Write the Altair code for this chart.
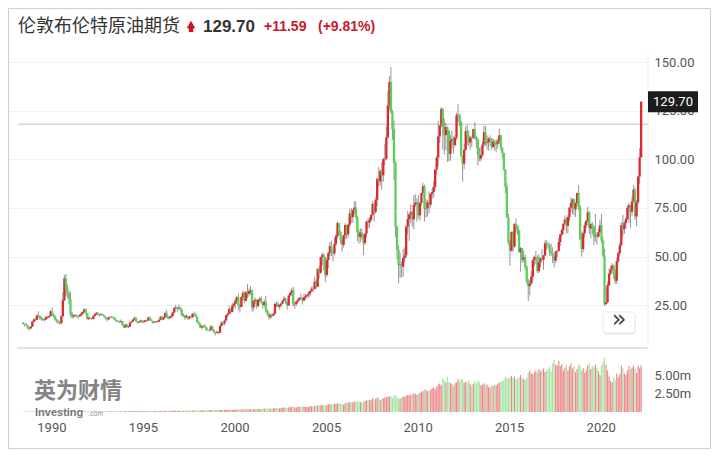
import altair as alt
import pandas as pd
import numpy as np

# ---------------- data (monthly Brent futures, Jun 1988 - Mar 2022) ----------------
start_year, start_month = 1988, 6
first_open = 15.9

close = [
    15.2, 15.1, 14.5, 12.9, 13.0, 13.9, 16.4,
    17.6, 17.4, 19.6, 19.5, 17.8, 17.9, 17.3, 17.6, 18.9, 18.7, 19.3, 21.8,
    20.0, 19.0, 17.5, 16.4, 16.1, 15.6, 19.2, 27.5, 38.7, 33.5, 31.0, 28.0,
    20.5, 19.0, 19.5, 19.8, 19.3, 19.2, 19.8, 20.5, 21.5, 22.8, 20.7, 17.8,
    18.4, 18.2, 17.8, 19.4, 20.3, 21.0, 19.8, 19.9, 20.4, 19.8, 19.0, 18.0,
    17.6, 18.7, 18.7, 18.9, 18.5, 17.2, 16.9, 16.8, 16.2, 16.7, 14.6, 13.5,
    15.0, 13.6, 13.9, 16.0, 16.5, 17.6, 18.4, 16.6, 16.0, 16.4, 17.0, 16.1,
    16.3, 17.2, 16.9, 18.6, 17.6, 16.8, 15.9, 16.2, 16.6, 16.4, 17.4, 19.0,
    17.6, 18.6, 20.8, 19.1, 18.2, 18.6, 19.4, 21.2, 23.4, 23.8, 23.1, 23.6,
    22.6, 19.6, 19.8, 18.5, 19.3, 18.1, 18.9, 18.8, 20.5, 20.5, 18.9, 16.2,
    15.4, 13.4, 14.1, 14.3, 13.6, 12.2, 12.0, 12.0, 13.9, 12.2, 10.8, 10.6,
    11.2, 10.7, 14.3, 15.8, 15.6, 17.0, 19.7, 20.6, 23.0, 21.4, 24.6, 25.5,
    27.1, 29.0, 24.9, 24.0, 29.1, 31.3, 27.2, 31.6, 30.8, 32.2, 32.6, 23.8,
    26.9, 27.8, 24.6, 27.6, 28.3, 26.5, 25.0, 26.6, 22.4, 20.6, 18.8, 19.8,
    19.5, 20.5, 25.7, 25.6, 24.1, 25.0, 25.8, 27.2, 28.4, 26.7, 24.8, 30.0,
    31.2, 32.6, 25.4, 25.6, 26.8, 27.6, 28.8, 28.7, 27.3, 28.9, 29.7, 30.2,
    30.9, 32.2, 33.4, 33.3, 37.0, 34.4, 43.6, 41.7, 49.7, 50.9, 49.4, 40.5,
    48.2, 51.8, 55.4, 51.9, 51.6, 56.5, 60.6, 67.2, 62.6, 58.6, 56.0, 61.0,
    66.2, 61.5, 66.3, 72.2, 70.3, 73.9, 75.2, 70.3, 62.5, 60.0, 62.3, 61.1,
    57.0, 61.8, 68.1, 67.5, 68.8, 71.4, 77.0, 73.0, 79.2, 90.0, 88.7, 93.9,
    91.8, 100.1, 100.3, 111.4, 127.8, 139.8, 124.1, 115.5, 98.2, 65.3, 53.5, 45.6,
    45.9, 44.8, 49.2, 50.6, 65.4, 69.3, 71.7, 73.0, 69.1, 76.6, 77.7, 77.9,
    71.2, 77.6, 82.7, 86.2, 74.7, 75.0, 78.0, 76.7, 82.3, 83.2, 85.9, 94.8,
    101.0, 111.8, 117.4, 125.9, 116.7, 112.5, 116.7, 114.9, 102.8, 109.6, 110.5, 107.4,
    111.2, 122.7, 122.9, 119.5, 101.9, 97.8, 104.9, 114.6, 112.4, 108.7, 111.2, 111.1,
    115.6, 111.4, 110.0, 102.4, 100.4, 102.2, 107.7, 114.0, 108.4, 108.8, 110.8, 110.8,
    106.4, 109.1, 107.8, 108.1, 109.4, 112.4, 106.0, 103.2, 94.7, 85.9, 70.2, 57.3,
    53.0, 62.6, 55.1, 66.8, 65.6, 63.6, 52.2, 54.2, 48.4, 49.6, 44.6, 37.3,
    34.7, 36.0, 39.6, 48.1, 49.7, 49.7, 42.5, 47.0, 49.1, 48.3, 50.5, 56.8,
    55.7, 55.6, 52.8, 51.7, 50.3, 47.9, 52.7, 52.9, 57.5, 61.4, 63.6, 66.9,
    69.1, 65.8, 70.3, 75.2, 77.6, 79.4, 74.3, 77.4, 82.7, 75.5, 58.7, 53.8,
    61.9, 66.0, 68.4, 72.8, 64.5, 66.6, 65.2, 60.4, 60.8, 60.2, 62.4, 66.0,
    58.2, 50.5, 25.5, 26.5, 35.3, 41.2, 43.3, 45.3, 40.9, 37.5, 47.6, 51.8,
    55.9, 66.1, 64.0, 67.3, 69.3, 75.1, 76.3, 73.0, 78.3, 84.4, 70.6, 77.8,
    91.2, 101.0, 129.7,
]

high = [
    16.3, 15.6, 15.8, 14.6, 13.6, 14.2, 16.8,
    18.4, 18.1, 20.2, 21.8, 19.6, 18.8, 18.5, 18.0, 19.4, 19.5, 19.6, 22.3,
    23.8, 20.5, 19.6, 17.9, 17.4, 16.6, 19.8, 31.5, 40.5, 41.0, 35.5, 32.0,
    32.0, 21.5, 20.2, 20.4, 20.0, 19.6, 20.4, 21.2, 21.7, 23.4, 22.9, 20.8,
    19.1, 18.8, 18.4, 19.6, 20.6, 21.4, 21.2, 20.2, 20.7, 20.6, 19.9, 19.1,
    18.3, 19.0, 19.2, 19.4, 19.1, 18.7, 17.5, 17.3, 16.9, 17.6, 16.9, 14.8,
    15.2, 15.3, 14.4, 16.2, 16.8, 17.9, 19.1, 18.5, 16.8, 16.9, 17.6, 17.2,
    17.2, 17.4, 17.5, 19.0, 19.1, 17.7, 16.9, 16.6, 16.9, 16.8, 17.7, 19.2,
    19.3, 18.9, 21.6, 22.4, 19.5, 19.2, 20.3, 21.4, 24.1, 25.1, 24.0, 25.2,
    24.2, 22.9, 20.7, 19.9, 20.3, 19.6, 19.6, 19.8, 20.8, 21.7, 20.7, 19.0,
    16.7, 15.7, 14.5, 14.7, 15.1, 13.8, 12.9, 12.4, 14.8, 14.2, 12.5, 11.0,
    11.9, 11.4, 14.5, 16.8, 16.4, 17.4, 19.9, 21.0, 24.8, 23.4, 26.1, 26.2,
    28.3, 29.6, 31.0, 25.6, 29.6, 32.3, 32.0, 32.2, 35.9, 33.5, 34.8, 32.8,
    27.4, 28.9, 28.0, 28.0, 29.0, 29.5, 26.9, 27.8, 29.6, 22.6, 21.2, 20.4,
    20.9, 21.1, 25.8, 26.9, 26.6, 25.4, 26.2, 27.6, 29.6, 28.9, 27.0, 30.3,
    31.9, 33.7, 34.4, 26.6, 27.3, 28.5, 29.0, 30.8, 29.0, 30.9, 30.6, 30.4,
    32.0, 32.4, 34.5, 34.7, 39.5, 38.2, 43.9, 45.2, 49.9, 52.0, 51.5, 49.8,
    49.0, 52.5, 57.5, 58.3, 53.5, 59.5, 61.5, 68.0, 67.3, 63.2, 59.8, 61.3,
    67.1, 66.5, 66.9, 74.6, 74.9, 74.0, 78.6, 78.4, 70.9, 64.0, 64.5, 64.3,
    61.3, 62.0, 68.4, 69.8, 70.4, 71.6, 78.6, 77.6, 80.6, 90.6, 96.0, 94.9,
    98.5, 100.9, 108.0, 117.0, 135.1, 143.0, 147.5, 125.5, 120.0, 99.0, 66.0, 55.6,
    52.0, 47.5, 53.9, 54.7, 66.0, 73.5, 72.0, 76.8, 73.3, 81.5, 82.0, 80.0,
    81.6, 78.0, 82.8, 88.0, 87.0, 79.4, 79.2, 83.5, 82.4, 85.0, 88.8, 95.0,
    101.9, 119.8, 117.6, 127.0, 126.5, 121.0, 118.9, 117.0, 115.0, 112.5, 115.0, 111.8,
    112.5, 124.0, 128.4, 123.5, 120.0, 102.0, 108.0, 117.0, 117.9, 115.0, 112.0, 111.8,
    115.8, 119.2, 112.0, 111.0, 106.0, 106.5, 109.3, 117.3, 117.3, 112.3, 111.5, 112.4,
    111.0, 110.5, 110.0, 110.4, 110.5, 115.7, 112.6, 106.3, 103.5, 95.0, 87.8, 72.0,
    58.5, 63.0, 63.2, 67.1, 69.6, 66.0, 63.8, 54.9, 54.3, 53.1, 50.9, 45.5,
    38.5, 37.9, 42.5, 48.5, 50.5, 52.9, 50.5, 51.2, 49.7, 53.7, 50.8, 58.4,
    58.4, 57.4, 56.7, 56.6, 54.7, 50.5, 52.9, 53.3, 59.5, 61.7, 64.7, 67.1,
    71.3, 70.1, 71.2, 75.5, 80.5, 79.9, 79.9, 78.0, 82.9, 86.7, 76.5, 62.9,
    62.9, 67.5, 68.7, 75.6, 73.3, 67.3, 67.8, 65.8, 71.9, 62.6, 64.4, 68.9,
    71.8, 60.0, 53.9, 34.0, 37.0, 43.9, 45.2, 46.5, 45.9, 43.5, 49.3, 52.5,
    57.4, 67.7, 71.4, 68.1, 70.2, 76.6, 77.8, 76.7, 80.8, 86.7, 85.5, 79.0,
    91.7, 105.8, 130.0,
]

low = [
    14.9, 13.9, 14.2, 12.5, 11.9, 12.6, 13.8,
    16.2, 16.6, 17.2, 19.0, 17.5, 17.0, 16.8, 16.5, 17.5, 18.0, 18.3, 19.2,
    19.5, 18.6, 17.0, 15.8, 15.4, 14.8, 15.4, 19.0, 27.0, 29.5, 28.8, 25.5,
    19.0, 17.9, 18.2, 18.9, 18.5, 18.0, 18.9, 19.0, 19.9, 21.2, 20.2, 17.5,
    17.2, 17.7, 17.3, 17.6, 19.3, 19.9, 19.6, 19.1, 19.7, 19.6, 18.7, 17.5,
    16.6, 17.5, 18.2, 18.3, 18.0, 17.0, 16.2, 16.4, 15.7, 16.1, 14.4, 13.1,
    13.3, 13.5, 13.1, 13.8, 15.7, 16.3, 17.5, 16.3, 15.3, 15.8, 16.3, 15.6,
    15.8, 16.2, 16.6, 16.8, 17.4, 16.5, 15.4, 15.8, 16.0, 15.9, 16.3, 17.3,
    17.1, 17.4, 18.4, 18.5, 17.6, 17.8, 18.4, 19.1, 20.8, 22.9, 21.5, 22.8,
    21.9, 19.2, 18.8, 17.3, 18.4, 17.3, 17.6, 18.2, 18.3, 19.9, 18.8, 15.9,
    14.9, 13.3, 12.4, 13.2, 13.4, 11.5, 11.8, 11.4, 11.8, 11.9, 10.5, 9.4,
    10.3, 9.9, 10.6, 14.1, 14.6, 14.5, 16.9, 18.9, 20.2, 20.4, 21.2, 23.3,
    23.2, 26.1, 22.4, 21.2, 23.9, 27.3, 26.0, 26.8, 28.7, 29.3, 30.3, 21.5,
    22.2, 25.5, 23.2, 23.8, 26.7, 25.7, 23.3, 24.3, 21.2, 19.5, 17.5, 17.8,
    18.5, 19.3, 20.2, 24.0, 23.9, 22.7, 24.0, 25.5, 27.1, 25.6, 22.6, 24.5,
    29.1, 29.8, 24.3, 23.1, 24.5, 25.8, 27.3, 28.0, 25.4, 27.1, 27.8, 28.5,
    28.8, 29.5, 31.6, 31.7, 33.1, 33.4, 34.2, 38.8, 41.0, 45.4, 42.6, 36.9,
    39.4, 43.9, 50.3, 50.2, 47.5, 50.6, 55.4, 59.5, 61.5, 56.6, 52.6, 54.5,
    58.9, 58.9, 59.8, 65.1, 67.3, 67.3, 71.6, 69.4, 58.0, 56.6, 57.2, 58.7,
    50.7, 56.0, 59.8, 64.8, 64.6, 67.9, 71.0, 68.0, 72.0, 76.0, 86.0, 86.5,
    84.5, 88.5, 97.0, 99.5, 110.5, 125.4, 123.5, 110.2, 89.5, 60.0, 48.5, 36.2,
    39.0, 39.4, 39.5, 47.0, 49.2, 61.5, 58.0, 67.1, 65.3, 64.1, 75.5, 68.0,
    69.6, 68.5, 76.2, 81.5, 68.0, 70.2, 70.5, 72.2, 75.2, 79.6, 80.5, 84.5,
    92.0, 96.5, 108.5, 116.5, 105.0, 102.5, 104.8, 98.7, 99.0, 99.3, 105.5, 103.0,
    106.5, 110.0, 119.0, 117.0, 101.0, 88.5, 95.0, 104.5, 107.5, 107.0, 105.0, 106.5,
    110.5, 110.3, 106.0, 96.8, 99.0, 99.0, 101.5, 106.5, 107.0, 105.0, 104.5, 106.8,
    105.0, 106.0, 104.5, 103.7, 105.6, 108.0, 104.5, 100.5, 94.2, 82.6, 70.0, 56.0,
    45.2, 52.6, 52.5, 54.5, 62.2, 61.1, 52.1, 42.2, 46.6, 47.1, 43.0, 36.0,
    27.1, 30.0, 35.7, 37.3, 45.0, 46.0, 41.5, 41.5, 44.5, 48.0, 43.1, 50.2,
    53.6, 54.2, 50.3, 50.4, 46.6, 44.4, 46.6, 49.7, 52.5, 55.5, 60.1, 61.2,
    66.3, 61.8, 62.0, 68.3, 73.0, 71.8, 71.2, 70.3, 76.4, 74.0, 58.4, 50.0,
    52.1, 59.9, 64.5, 67.9, 61.6, 59.5, 61.4, 55.9, 57.5, 56.1, 59.7, 62.1,
    57.2, 49.5, 24.5, 25.0, 26.0, 34.6, 40.5, 42.5, 38.5, 35.8, 35.9, 46.8,
    50.4, 55.2, 60.3, 61.6, 64.5, 68.8, 67.4, 64.6, 71.0, 77.8, 68.9, 65.7,
    77.0, 87.3, 100.9,
]

volume_m = [
    0.05, 0.05, 0.06, 0.05, 0.06, 0.05, 0.06,
    0.06, 0.05, 0.06, 0.07, 0.06, 0.05, 0.06, 0.06, 0.07, 0.06, 0.06, 0.07,
    0.07, 0.06, 0.06, 0.07, 0.06, 0.06, 0.08, 0.12, 0.14, 0.12, 0.10, 0.09,
    0.12, 0.09, 0.08, 0.08, 0.07, 0.08, 0.08, 0.08, 0.09, 0.09, 0.08, 0.09,
    0.09, 0.08, 0.09, 0.10, 0.09, 0.10, 0.09, 0.09, 0.10, 0.09, 0.10, 0.09,
    0.10, 0.11, 0.10, 0.10, 0.11, 0.10, 0.11, 0.11, 0.10, 0.12, 0.11, 0.12,
    0.12, 0.13, 0.12, 0.13, 0.12, 0.14, 0.13, 0.12, 0.13, 0.12, 0.13, 0.12,
    0.13, 0.14, 0.13, 0.15, 0.14, 0.13, 0.14, 0.15, 0.14, 0.15, 0.14, 0.16,
    0.16, 0.17, 0.18, 0.17, 0.16, 0.17, 0.18, 0.17, 0.19, 0.18, 0.17, 0.19,
    0.19, 0.18, 0.19, 0.20, 0.19, 0.18, 0.20, 0.19, 0.20, 0.21, 0.20, 0.22,
    0.22, 0.23, 0.25, 0.22, 0.24, 0.26, 0.23, 0.25, 0.27, 0.24, 0.26, 0.28,
    0.27, 0.26, 0.30, 0.28, 0.27, 0.29, 0.30, 0.28, 0.32, 0.30, 0.31, 0.29,
    0.32, 0.35, 0.36, 0.33, 0.34, 0.37, 0.35, 0.38, 0.40, 0.36, 0.37, 0.39,
    0.40, 0.38, 0.42, 0.45, 0.41, 0.44, 0.43, 0.46, 0.52, 0.48, 0.50, 0.45,
    0.47, 0.50, 0.55, 0.52, 0.55, 0.50, 0.56, 0.58, 0.60, 0.57, 0.59, 0.62,
    0.66, 0.70, 0.72, 0.62, 0.65, 0.68, 0.70, 0.66, 0.72, 0.75, 0.70, 0.68,
    0.72, 0.76, 0.80, 0.78, 0.85, 0.82, 0.88, 0.92, 0.90, 0.95, 0.92, 0.88,
    0.95, 1.00, 1.10, 1.05, 1.02, 1.12, 1.08, 1.18, 1.15, 1.10, 1.06, 1.00,
    1.20, 1.25, 1.30, 1.35, 1.28, 1.32, 1.40, 1.38, 1.45, 1.42, 1.36, 1.30,
    1.45, 1.50, 1.60, 1.55, 1.62, 1.58, 1.85, 1.70, 1.75, 1.95, 1.88, 1.62,
    1.80, 1.85, 1.95, 2.00, 2.10, 2.05, 2.20, 1.90, 2.15, 2.30, 1.95, 1.85,
    1.80, 1.95, 2.10, 2.05, 2.20, 2.30, 2.25, 2.35, 2.40, 2.55, 2.45, 2.30,
    2.50, 2.60, 2.70, 2.85, 3.10, 2.95, 2.80, 2.90, 3.00, 3.20, 3.30, 3.05,
    3.40, 3.70, 3.85, 3.60, 4.60, 4.30, 4.00, 4.75, 4.10, 3.90, 3.80, 3.50,
    3.90, 4.00, 4.45, 4.10, 4.50, 4.35, 3.95, 4.10, 4.00, 4.30, 3.80, 3.50,
    3.80, 4.20, 3.90, 4.30, 4.00, 3.60, 3.70, 3.90, 3.60, 3.70, 3.40, 3.30,
    3.60, 3.50, 3.70, 3.60, 3.80, 4.00, 4.10, 4.20, 4.30, 4.80, 4.60, 4.50,
    4.70, 4.90, 4.60, 4.80, 4.40, 4.50, 4.70, 5.00, 4.60, 4.50, 4.40, 4.70,
    5.30, 5.60, 5.20, 5.10, 5.40, 5.60, 5.30, 5.80, 5.50, 5.70, 5.90, 5.40,
    5.60, 5.80, 6.10, 5.50, 6.60, 7.10, 6.40, 6.30, 6.90, 6.20, 6.50, 5.60,
    6.00, 6.40, 5.60, 6.20, 6.60, 5.90, 6.20, 5.40, 5.80, 6.50, 6.30, 5.60,
    5.90, 5.30, 5.60, 6.30, 6.70, 5.80, 6.20, 6.00, 6.40, 5.90, 5.50, 5.00,
    6.30, 6.80, 7.30, 6.40, 5.60, 4.80, 4.20, 4.00, 4.60, 4.30, 5.20, 4.70,
    5.10, 6.30, 5.90, 5.20, 5.00, 5.60, 6.20, 5.80, 6.00, 6.30, 5.80, 5.30,
    6.20, 5.90, 6.30,
]

year_ticks = [1990, 1995, 2000, 2005, 2010, 2015, 2020]
price_ticks = [25, 50, 75, 100, 125, 150]
volume_ticks = [2.5, 5.0]
prev_close = 118.11
last_price = 129.70
title_text = "伦敦布伦特原油期货"
price_text = "129.70"
change_text = "+11.59"
change_pct_text = "(+9.81%)"

# ---------------- table ----------------
n = len(close)
month_index = [start_year * 12 + start_month - 1 + i for i in range(n)]
t = [m / 12 + 1 / 24 for m in month_index]
opens = [first_open] + close[:-1]
df = pd.DataFrame({"t": t, "open": opens, "close": close, "high": high,
                   "low": low, "vol": volume_m})
df["dir"] = np.where(df["close"] >= df["open"], "up", "down")

one = pd.DataFrame({"k": [0]})

RED = "#dc2830"
GREEN = "#5ccf58"
AXIS_FONT = "Roboto"

x_scale = alt.Scale(domain=[1988, 2022.5], range=[1.8, 643.5], nice=False, zero=False)
price_scale = alt.Scale(domain=[0, 150], range=[345.6, 54.3], nice=False, zero=False)
vol_scale = alt.Scale(domain=[0, 7.5], range=[404, 348.5], nice=False, zero=False)
color_scale = alt.Scale(domain=["up", "down"], range=[RED, GREEN])

x_axis = alt.Axis(values=year_ticks, format="d", domain=False, ticks=False, grid=False,
                  labelFontSize=13, labelColor="#555555", labelFont=AXIS_FONT,
                  labelPadding=8, labelFlush=False, labelOverlap=False, title=None)
price_axis = alt.Axis(orient="right", values=price_ticks, format=".2f", domain=False,
                      ticks=False, grid=True, gridColor="#f1f1f1", labelFontSize=13,
                      labelColor="#555555", labelFont=AXIS_FONT, labelPadding=6,
                      title=None)
vol_axis = alt.Axis(orient="right", values=volume_ticks,
                    labelExpr="format(datum.value, '.2f') + 'm'", domain=False,
                    ticks=False, grid=False, labelFontSize=13, labelColor="#555555",
                    labelFont=AXIS_FONT, labelPadding=6, title=None)


def X():
    return alt.X("t:Q", scale=x_scale, axis=x_axis)


base = alt.Chart(df)

card = alt.Chart(one).mark_rect(fill="transparent", stroke="#cfcfcf", strokeWidth=1).encode(
    x=alt.value(0.5), x2=alt.value(702.5), y=alt.value(0.5), y2=alt.value(440.5))

right_line = alt.Chart(one).mark_rule(color="#ececec", strokeWidth=1).encode(
    x=alt.value(640), y=alt.value(47), y2=alt.value(339))

separator = alt.Chart(one).mark_rule(color="#e3e3e3", strokeWidth=2).encode(
    x=alt.value(9), x2=alt.value(640), y=alt.value(340))

prev_line = alt.Chart(one).mark_rule(color="#cdbfb4", strokeWidth=1).encode(
    x=alt.value(10), x2=alt.value(640),
    y=alt.YDatum(prev_close, type="quantitative", scale=price_scale, axis=None))

wicks = base.mark_rule(color="#404040", strokeWidth=1, opacity=0.55).encode(
    x=X(),
    y=alt.Y("low:Q", scale=price_scale, axis=None),
    y2="high:Q")

bodies = base.mark_bar(width=2.3).encode(
    x=X(),
    y=alt.Y("open:Q", scale=price_scale, axis=price_axis),
    y2="close:Q",
    color=alt.Color("dir:N", scale=color_scale, legend=None))

vol_bars = base.mark_bar(width=1.2, opacity=0.55).encode(
    x=X(),
    y=alt.Y("vol:Q", scale=vol_scale, axis=vol_axis, stack=None),
    color=alt.Color("dir:N", scale=color_scale, legend=None))

label_box = alt.Chart(one).mark_tick(orient="vertical", size=21, thickness=50,
                                     color="#1c1c1c", opacity=1).encode(
    x=alt.value(665),
    y=alt.YDatum(last_price, type="quantitative", scale=price_scale, axis=None))

label_text = alt.Chart(one).mark_text(text=price_text, color="white", fontSize=13,
                                      font=AXIS_FONT, align="center",
                                      baseline="middle").encode(
    x=alt.value(665),
    y=alt.YDatum(last_price, type="quantitative", scale=price_scale, axis=None))

title = alt.Chart(one).mark_text(text=title_text, font="Noto Sans CJK SC", fontSize=18,
                                 color="#333333", align="left", baseline="middle").encode(
    x=alt.value(10), y=alt.value(19))

arrow_head = alt.Chart(one).mark_point(shape="triangle-up", filled=True, size=75,
                                       color="#d0101e", opacity=1).encode(
    x=alt.value(183), y=alt.value(16.5))
arrow_stem = alt.Chart(one).mark_rect(color="#d0101e").encode(
    x=alt.value(180.8), x2=alt.value(185.2), y=alt.value(18.5), y2=alt.value(24))

price_lbl = alt.Chart(one).mark_text(text=price_text, font="Liberation Sans", fontSize=17,
                                     fontWeight="bold", color="#333333", align="left",
                                     baseline="middle").encode(
    x=alt.value(195), y=alt.value(19))
change_lbl = alt.Chart(one).mark_text(text=change_text, font="Liberation Sans", fontSize=14,
                                      fontWeight="bold", color="#c8192b", align="left",
                                      baseline="middle").encode(
    x=alt.value(256), y=alt.value(19))
pct_lbl = alt.Chart(one).mark_text(text=change_pct_text, font="Liberation Sans", fontSize=14,
                                   fontWeight="bold", color="#c8192b", align="left",
                                   baseline="middle").encode(
    x=alt.value(310), y=alt.value(19))

wm_cn = alt.Chart(one).mark_text(text="英为财情", font="Noto Sans CJK SC", fontSize=22,
                                 fontWeight="bold", color="#6f6f6f", opacity=0.85,
                                 align="left", baseline="middle").encode(
    x=alt.value(26), y=alt.value(383))
wm_en = alt.Chart(one).mark_text(text="Investing", font="Liberation Sans", fontSize=11,
                                 fontWeight="bold", color="#6a6a6a", opacity=0.9,
                                 align="left", baseline="middle").encode(
    x=alt.value(27), y=alt.value(404.5))
wm_com = alt.Chart(one).mark_text(text=".com", font="Liberation Sans", fontSize=7,
                                  color="#8a8a8a", opacity=0.9, align="left",
                                  baseline="middle").encode(
    x=alt.value(80), y=alt.value(406))

btn_shadow = alt.Chart(one).mark_rect(color="#e9e9e9", cornerRadius=3).encode(
    x=alt.value(595), x2=alt.value(627.5), y=alt.value(305), y2=alt.value(326.5))
btn = alt.Chart(one).mark_rect(fill="white", stroke="#e4e4e4", strokeWidth=0.8,
                               cornerRadius=3).encode(
    x=alt.value(595), x2=alt.value(627), y=alt.value(304), y2=alt.value(325))
btn_glyph = alt.Chart(one).mark_text(text="»", font="DejaVu Sans", fontSize=24,
                                     color="#444444", align="center",
                                     baseline="middle").encode(
    x=alt.value(611), y=alt.value(312))

chart = alt.layer(
    card, right_line, separator, prev_line, wicks, bodies, vol_bars,
    label_box, label_text, title, arrow_head, arrow_stem, price_lbl, change_lbl,
    pct_lbl, wm_cn, wm_en, wm_com, btn_shadow, btn, btn_glyph,
).resolve_scale(y="independent").properties(
    width=640, height=405,
    padding={"left": 0, "top": 0, "right": 67, "bottom": 40},
    autosize=alt.AutoSizeParams(type="none"),
    background="white",
).configure_view(strokeWidth=0)

chart.save("out.html", embed_options={"renderer": "svg", "actions": False})
